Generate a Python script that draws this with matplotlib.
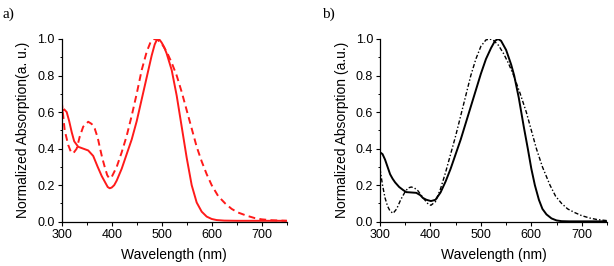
import matplotlib
matplotlib.use("Agg")
import matplotlib.pyplot as plt
from matplotlib.ticker import MultipleLocator

plt.rcParams['font.family'] = ['Liberation Sans', 'DejaVu Sans']

# --- panel a) ---
wl_a_solid = [300, 305, 310, 315, 320, 325, 333, 343, 353, 363, 372, 380, 386, 392, 396,
              400, 405, 410, 420, 430, 440, 450, 460, 470, 480, 486, 491, 496, 500, 505,
              510, 520, 530, 540, 550, 560, 570, 580, 590, 600, 610, 625, 650, 750]
abs_a_solid = [0.60, 0.615, 0.60, 0.55, 0.49, 0.44, 0.41, 0.40, 0.39, 0.36, 0.30, 0.25, 0.22, 0.19, 0.183,
               0.187, 0.20, 0.225, 0.29, 0.37, 0.45, 0.55, 0.67, 0.79, 0.91, 0.97, 1.0, 0.995, 0.98, 0.955,
               0.92, 0.83, 0.69, 0.52, 0.35, 0.20, 0.105, 0.055, 0.028, 0.015, 0.009, 0.006, 0.005, 0.005]

wl_a_dash = [300, 306, 313, 318, 323, 330, 336, 343, 353, 360, 366, 372, 376, 381, 386, 391, 395,
             400, 410, 420, 430, 440, 450, 460, 470, 478, 485, 492, 500, 510, 520,
             530, 540, 550, 560, 570, 580, 590, 600, 613, 627, 640, 653, 670, 686, 700, 720, 750]
abs_a_dash = [0.66, 0.50, 0.42, 0.385, 0.374, 0.40, 0.465, 0.52, 0.547, 0.535, 0.51, 0.46, 0.41, 0.35, 0.30, 0.255, 0.238,
              0.245, 0.30, 0.38, 0.47, 0.58, 0.70, 0.83, 0.93, 0.985, 1.0, 0.995, 0.975, 0.93, 0.87,
              0.80, 0.71, 0.61, 0.51, 0.41, 0.33, 0.26, 0.20, 0.14, 0.10, 0.07, 0.05, 0.033, 0.02, 0.013, 0.008, 0.005]

# --- panel b) ---
wl_b_solid = [300, 305, 310, 315, 320, 325, 330, 338, 346, 352, 362, 372, 380, 385, 392, 401,
              410, 420, 430, 440, 450, 460, 470, 480, 490, 500, 510, 520, 528, 534, 540, 550, 560,
              566, 575, 585, 593, 600, 607, 615, 622, 630, 640, 650, 660, 675, 750]
abs_b_solid = [0.38, 0.37, 0.34, 0.30, 0.26, 0.235, 0.215, 0.19, 0.173, 0.162, 0.16, 0.158, 0.145, 0.13, 0.12, 0.113,
               0.12, 0.16, 0.22, 0.29, 0.37, 0.45, 0.54, 0.63, 0.72, 0.81, 0.89, 0.95, 0.99, 1.0, 0.99, 0.94, 0.86,
               0.80, 0.68, 0.52, 0.40, 0.29, 0.20, 0.12, 0.07, 0.04, 0.018, 0.007, 0.003, 0.002, 0.002]

wl_b_dd = [300, 305, 310, 315, 320, 326, 333, 341, 350, 356, 362, 368, 375, 383, 390, 396, 401,
           410, 420, 430, 440, 450, 460, 470, 480, 490, 500, 510, 518, 526, 535, 545,
           555, 565, 578, 590, 600, 610, 622, 637, 648, 660, 672, 686, 700, 716, 730, 750]
abs_b_dd = [0.29, 0.20, 0.13, 0.085, 0.058, 0.046, 0.07, 0.12, 0.165, 0.185, 0.19, 0.185, 0.17, 0.14, 0.115, 0.095, 0.09,
            0.11, 0.18, 0.27, 0.37, 0.47, 0.58, 0.69, 0.80, 0.89, 0.96, 0.995, 1.0, 0.99, 0.965, 0.92,
            0.865, 0.80, 0.70, 0.60, 0.50, 0.40, 0.30, 0.20, 0.14, 0.10, 0.07, 0.05, 0.033, 0.02, 0.012, 0.006]

fig = plt.figure(figsize=(6.14, 2.66), dpi=100)
ax_a = fig.add_axes([0.1005, 0.1665, 0.3664, 0.6869])
ax_b = fig.add_axes([0.6189, 0.1665, 0.3697, 0.6869])

ax_a.plot(wl_a_solid, abs_a_solid, color='#ff1a1a', lw=1.4, solid_joinstyle='round')
ax_a.plot(wl_a_dash, abs_a_dash, color='#ff1a1a', lw=1.4, linestyle=(0, (3.5, 2.2)))

ax_b.plot(wl_b_solid, abs_b_solid, color='black', lw=1.4, solid_joinstyle='round')
ax_b.plot(wl_b_dd, abs_b_dd, color='black', lw=1.0, linestyle=(0, (3, 1.5, 1, 1.5)))

ylabels = ["Normalized Absorption(a. u.)", "Normalized Absorption (a.u.)"]
for ax, yl in zip([ax_a, ax_b], ylabels):
    ax.set_xlim(300, 750)
    ax.set_ylim(0, 1.0)
    ax.spines['top'].set_visible(False)
    ax.spines['right'].set_visible(False)
    ax.spines['left'].set_linewidth(0.9)
    ax.spines['bottom'].set_linewidth(0.9)
    ax.xaxis.set_major_locator(MultipleLocator(100))
    ax.xaxis.set_minor_locator(MultipleLocator(50))
    ax.yaxis.set_minor_locator(MultipleLocator(0.1))
    ax.set_yticks([0, 0.2, 0.4, 0.6, 0.8, 1.0])
    ax.set_yticklabels(["0.0", "0.2", "0.4", "0.6", "0.8", "1.0"])
    ax.tick_params(which='major', direction='out', length=3, width=0.8, labelsize=9, pad=2)
    ax.tick_params(which='minor', direction='out', length=1.8, width=0.7)
    ax.set_xlabel("Wavelength (nm)", fontsize=10, labelpad=5)
    ax.set_ylabel(yl, fontsize=10, labelpad=5)

fig.text(0.004, 0.945, "a)", fontsize=11, family=['Liberation Serif', 'DejaVu Serif'], va='center')
fig.text(0.524, 0.945, "b)", fontsize=11, family=['Liberation Serif', 'DejaVu Serif'], va='center')

fig.savefig("out.png", dpi=100)
